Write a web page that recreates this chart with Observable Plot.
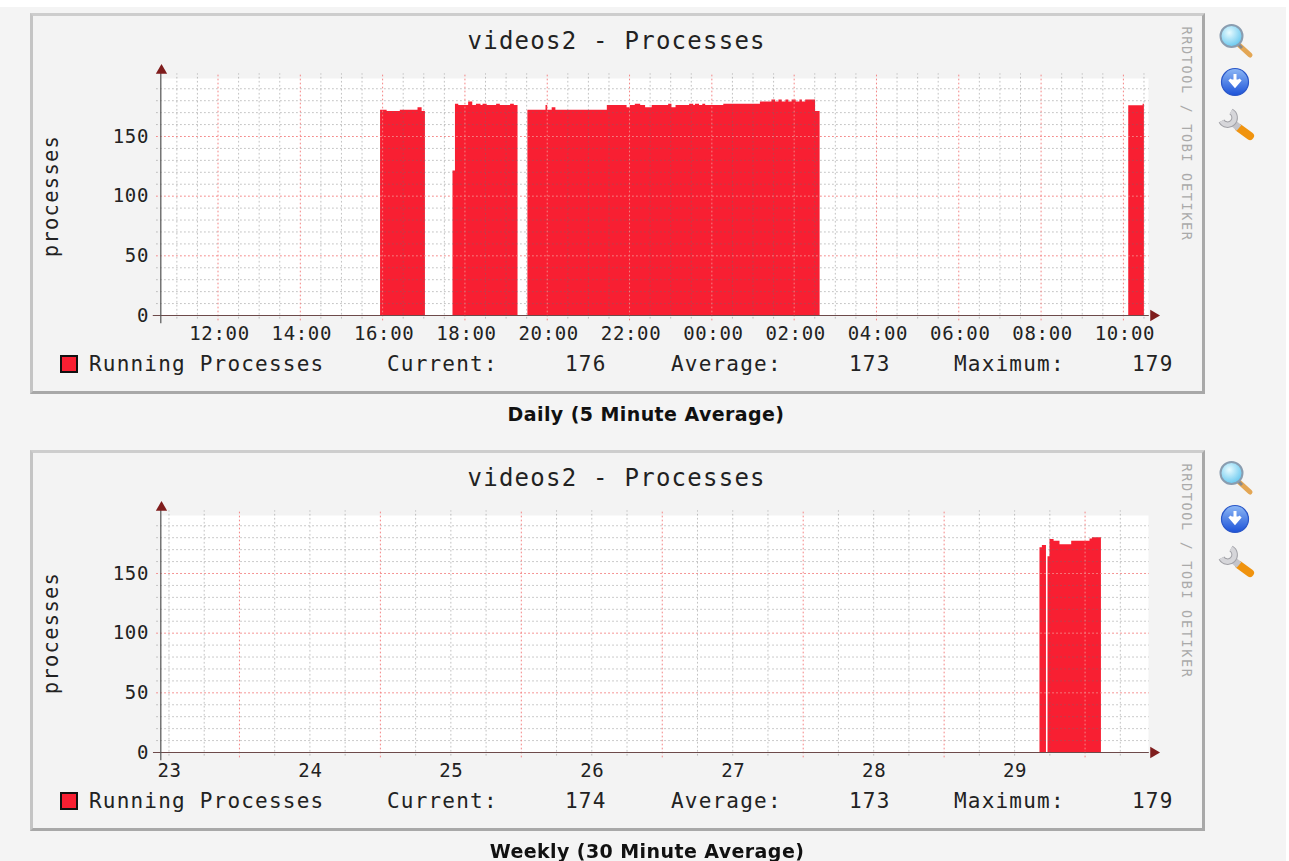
<!DOCTYPE html>
<html><head><meta charset="utf-8">
<script src="https://cdn.jsdelivr.net/npm/d3@7"></script>
<script src="https://cdn.jsdelivr.net/npm/@observablehq/plot@0.6"></script>
<style>
html,body{margin:0;padding:0;background:#fff;overflow:hidden}
#page{position:absolute;left:0;top:7px;width:1286px;height:854px;background:#f4f4f4;filter:blur(.6px)}
.panel{position:absolute;left:30px;width:1175px;height:381px;box-sizing:border-box;background:#f3f3f3;
 border:3px solid;border-color:#cdcdcd #a8a8a8 #a8a8a8 #c4c4c4}
.t{position:absolute;white-space:pre;font-family:"DejaVu Sans Mono",monospace;color:#222;line-height:1}
.cap{position:absolute;white-space:pre;font-family:"DejaVu Sans",sans-serif;font-weight:700;font-size:19px;color:#111;transform:translateX(-50%);line-height:1;letter-spacing:.42px}
svg.plot{position:absolute;left:-3px;top:-3px;max-width:none!important}
</style></head><body><div id="page"></div>
<script>
const title = "videos2 - Processes";
const yLabel = "processes";
const watermark = "RRDTOOL / TOBI OETIKER";
const seriesName = "Running Processes";
const yTicks = [0, 50, 100, 150];
const yMinor = [10,20,30,40,60,70,80,90,110,120,130,140,160,170,180,190];

// Daily: hours since the first midnight, step series, null = no data
const dailyHours = [15.95,16.11,16.43,16.86,16.96,17.04,17.05,
 17.71,17.77,17.85,18.09,18.19,18.28,18.39,18.44,18.54,18.77,18.86,19.11,19.20,19.29,19.30,
 19.53,19.97,20.01,20.12,20.21,21.46,21.94,22.02,22.14,22.27,22.39,22.55,22.95,23.03,23.13,23.46,23.56,23.60,23.70,23.78,23.85,24.29,25.18,25.46,25.55,25.63,25.71,25.80,25.87,25.95,26.05,26.14,26.20,26.28,26.52,26.63,26.64,
 34.13,34.48,34.51,34.52];
const dailyValues = [172,171,172,174,171,171,null,
 121,177,176,179,176,177,176,177,176,177,176,177,176,176,null,
 172,176,172,174,172,176,174,176,177,176,174,176,177,174,176,177,176,177,176,177,176,177,179,180.5,179,180.5,179,180.5,179,180.5,179,180.5,179,180.5,171,171,null,
 175.7,177,177,null];
const dailyTickHours = [12,14,16,18,20,22,24,26,28,30,32,34];
const dailyTickLabels = ["12:00","14:00","16:00","18:00","20:00","22:00","00:00","02:00","04:00","06:00","08:00","10:00"];
const dailyMinor = [11,11.5,12.5,13,13.5,14.5,15,15.5,16.5,17,17.5,18.5,19,19.5,20.5,21,21.5,22.5,23,23.5,24.5,25,25.5,26.5,27,27.5,28.5,29,29.5,30.5,31,31.5,32.5,33,33.5,34.5];
const dailyStats = ["176","173","179"];

// Weekly: day of month, step series
const weeklyDays = [29.18,29.197,29.226,29.227,29.237,29.251,29.28,29.322,29.405,29.535,29.552,29.616,29.617];
const weeklyValues = [171.5,173.5,173.5,null,164,178.5,177,174,177,179,180,180,null];
const weeklyTickDays = [23,24,25,26,27,28,29];
const weeklyTickLabels = ["23","24","25","26","27","28","29"];
const weeklyMajor = [23.5,24.5,25.5,26.5,27.5,28.5,29.5];
const weeklyMinor = [23,23.25,23.75,24,24.25,24.75,25,25.25,25.75,26,26.25,26.75,27,27.25,27.75,28,28.25,28.75,29,29.25,29.75];
const weeklyStats = ["174","173","179"];

const RED = "#f81f32";
const MONO = '"DejaVu Sans Mono",monospace';

function chart(o){
  const [x0,x1] = o.domain, pad = o.pad;
  const gray = {stroke:"rgba(110,110,110,.42)",strokeDasharray:"1.7 2.3",strokeWidth:1};
  const pink = {stroke:"#f48585",strokeDasharray:"1.7 2.3",strokeWidth:1};
  return Plot.plot({
    width:1175,height:381,marginLeft:131,marginRight:57,marginTop:65,marginBottom:79,
    style:{background:"transparent",overflow:"visible",fontFamily:MONO,fontSize:"19px",letterSpacing:".65px",color:"#222",maxWidth:"none"},
    x:{domain:o.domain,type:"linear"},
    y:{domain:[0,198.6]},
    marks:[
      Plot.frame({fill:"#fff",stroke:"none"}),
      Plot.areaY(o.xs,{x:d=>d,y1:0,y2:(d,i)=>o.ys[i],curve:"step-after",fill:RED}),
      Plot.ruleY(yMinor,{x1:x0-pad*.6,x2:x1+pad*.1,...gray}),
      Plot.ruleY(yTicks.slice(1),{x1:x0-pad*.6,x2:x1+pad*.1,...pink}),
      Plot.ruleX(o.minor,{y1:-3,y2:202.5,...gray}),
      Plot.ruleX(o.major,{y1:-4.5,y2:202.5,...pink}),
      Plot.ruleY([0],{x1:x0-pad,x2:x1+pad*.1,stroke:"#6d4a4a",strokeWidth:1.2}),
      Plot.ruleX([x0],{y1:-7,y2:203,dx:-.7,stroke:"#555",strokeWidth:1.2}),
      Plot.dot([0],{frameAnchor:"top-left",dy:-8,symbol:"triangle",r:4.2,fill:"#7f1d1d"}),
      Plot.dot([0],{frameAnchor:"bottom-right",dx:5,symbol:"triangle",r:4.2,rotate:90,fill:"#7f1d1d"}),
      Plot.axisY({ticks:yTicks,tickSize:0,tickPadding:12.5,label:null,fontSize:19}),
      Plot.axisX({ticks:o.ticks,tickFormat:d=>o.labels[o.ticks.indexOf(d)],tickSize:0,tickPadding:o.tp,dx:o.ldx,label:null,fontSize:19})
    ]
  });
}

function icons(top){
  const s = document.createElementNS("http://www.w3.org/2000/svg","svg");
  s.setAttribute("width",40);s.setAttribute("height",125);
  s.style.cssText=`position:absolute;left:1217px;top:${top}px`;
  const id = "g"+top;
  s.innerHTML=`<defs>
  <radialGradient id="${id}a" cx=".4" cy=".35" r=".7"><stop offset="0" stop-color="#e8fbff"/><stop offset="1" stop-color="#5fc4ee"/></radialGradient>
  <linearGradient id="${id}b" x1="0" y1="0" x2="0" y2="1"><stop offset="0" stop-color="#8db8f5"/><stop offset="1" stop-color="#1c52d8"/></linearGradient></defs>
  <line x1="21" y1="23" x2="33" y2="34" stroke="#e3a654" stroke-width="5" stroke-linecap="round"/>
  <line x1="21" y1="23" x2="25" y2="27" stroke="#8a8a8a" stroke-width="3"/>
  <circle cx="14.5" cy="15" r="11" fill="url(#${id}a)" stroke="#8a9db0" stroke-width="2"/>
  <circle cx="18" cy="61" r="13.5" fill="url(#${id}b)" stroke="#2a57c8" stroke-width="1.2"/>
  <path d="M18 53v9M12.5 58.5l5.5 6.5 5.5-6.5" fill="#fff" stroke="#fff" stroke-width="3"/>
  <line x1="22" y1="107" x2="33" y2="115" stroke="#f0930e" stroke-width="8" stroke-linecap="round"/>
  <line x1="14" y1="100" x2="22" y2="107" stroke="#c4c4ca" stroke-width="7"/>
  <path d="M14 90.5A7 7 0 1 1 4.5 100" fill="none" stroke="#a0a0a6" stroke-width="6.5"/>
  <path d="M14 90.5A7 7 0 1 1 4.5 100" fill="none" stroke="#d6d6da" stroke-width="4.5"/>`;
  return s;
}

function text(parent,str,left,top,size,extra=""){
  const d=document.createElement("div");d.className="t";d.textContent=str;
  d.style.cssText=`left:${left}px;top:${top}px;font-size:${size}px;${extra}`;
  parent.appendChild(d);return d;
}

function panel(top,capText,cfg){
  const page=document.getElementById("page");
  const oy=top-7;
  const p=document.createElement("div");p.className="panel";p.style.top=oy+"px";page.appendChild(p);
  const svg=chart(cfg);svg.classList.add("plot");p.appendChild(svg);
  text(p,title,434.5,12.5,24,"letter-spacing:1.25px;color:#222");
  text(p,yLabel,17.5,180,20.5,"letter-spacing:1.25px;transform:translate(-50%,-50%) rotate(-90deg)");
  text(p,watermark,1153,117.5,13.5,"color:#aaa;letter-spacing:1.65px;transform:translate(-50%,-50%) rotate(90deg)");
  const sw=document.createElement("div");
  sw.style.cssText=`position:absolute;left:26.5px;top:339px;width:14px;height:14px;background:${RED};border:2px solid #111`;
  p.appendChild(sw);
  const ls="letter-spacing:1.2px";
  text(p,seriesName,56,337.5,21,ls);
  text(p,"Current:",354,337.5,21,ls);
  text(p,cfg.stats[0],532,337.5,21,ls);
  text(p,"Average:",638,337.5,21,ls);
  text(p,cfg.stats[1],816,337.5,21,ls);
  text(p,"Maximum:",921,337.5,21,ls);
  text(p,cfg.stats[2],1099,337.5,21,ls);
  page.appendChild(icons(oy+8));
  const c=document.createElement("div");c.className="cap";c.textContent=capText;
  c.style.cssText=`left:${cfg.capX}px;top:${oy+391.5}px`;page.appendChild(c);
}

panel(13,"Daily (5 Minute Average)",{xs:dailyHours,ys:dailyValues,domain:[10.627,34.61],pad:.2,
  ticks:dailyTickHours,labels:dailyTickLabels,minor:dailyMinor,major:dailyTickHours,tp:10.5,ldx:1.5,stats:dailyStats,capX:646});
panel(450,"Weekly (30 Minute Average)",{xs:weeklyDays,ys:weeklyValues,domain:[22.947,29.95],pad:.057,
  ticks:weeklyTickDays,labels:weeklyTickLabels,minor:weeklyMinor,major:weeklyMajor,tp:10.5,ldx:.5,stats:weeklyStats,capX:647});
</script></body></html>
